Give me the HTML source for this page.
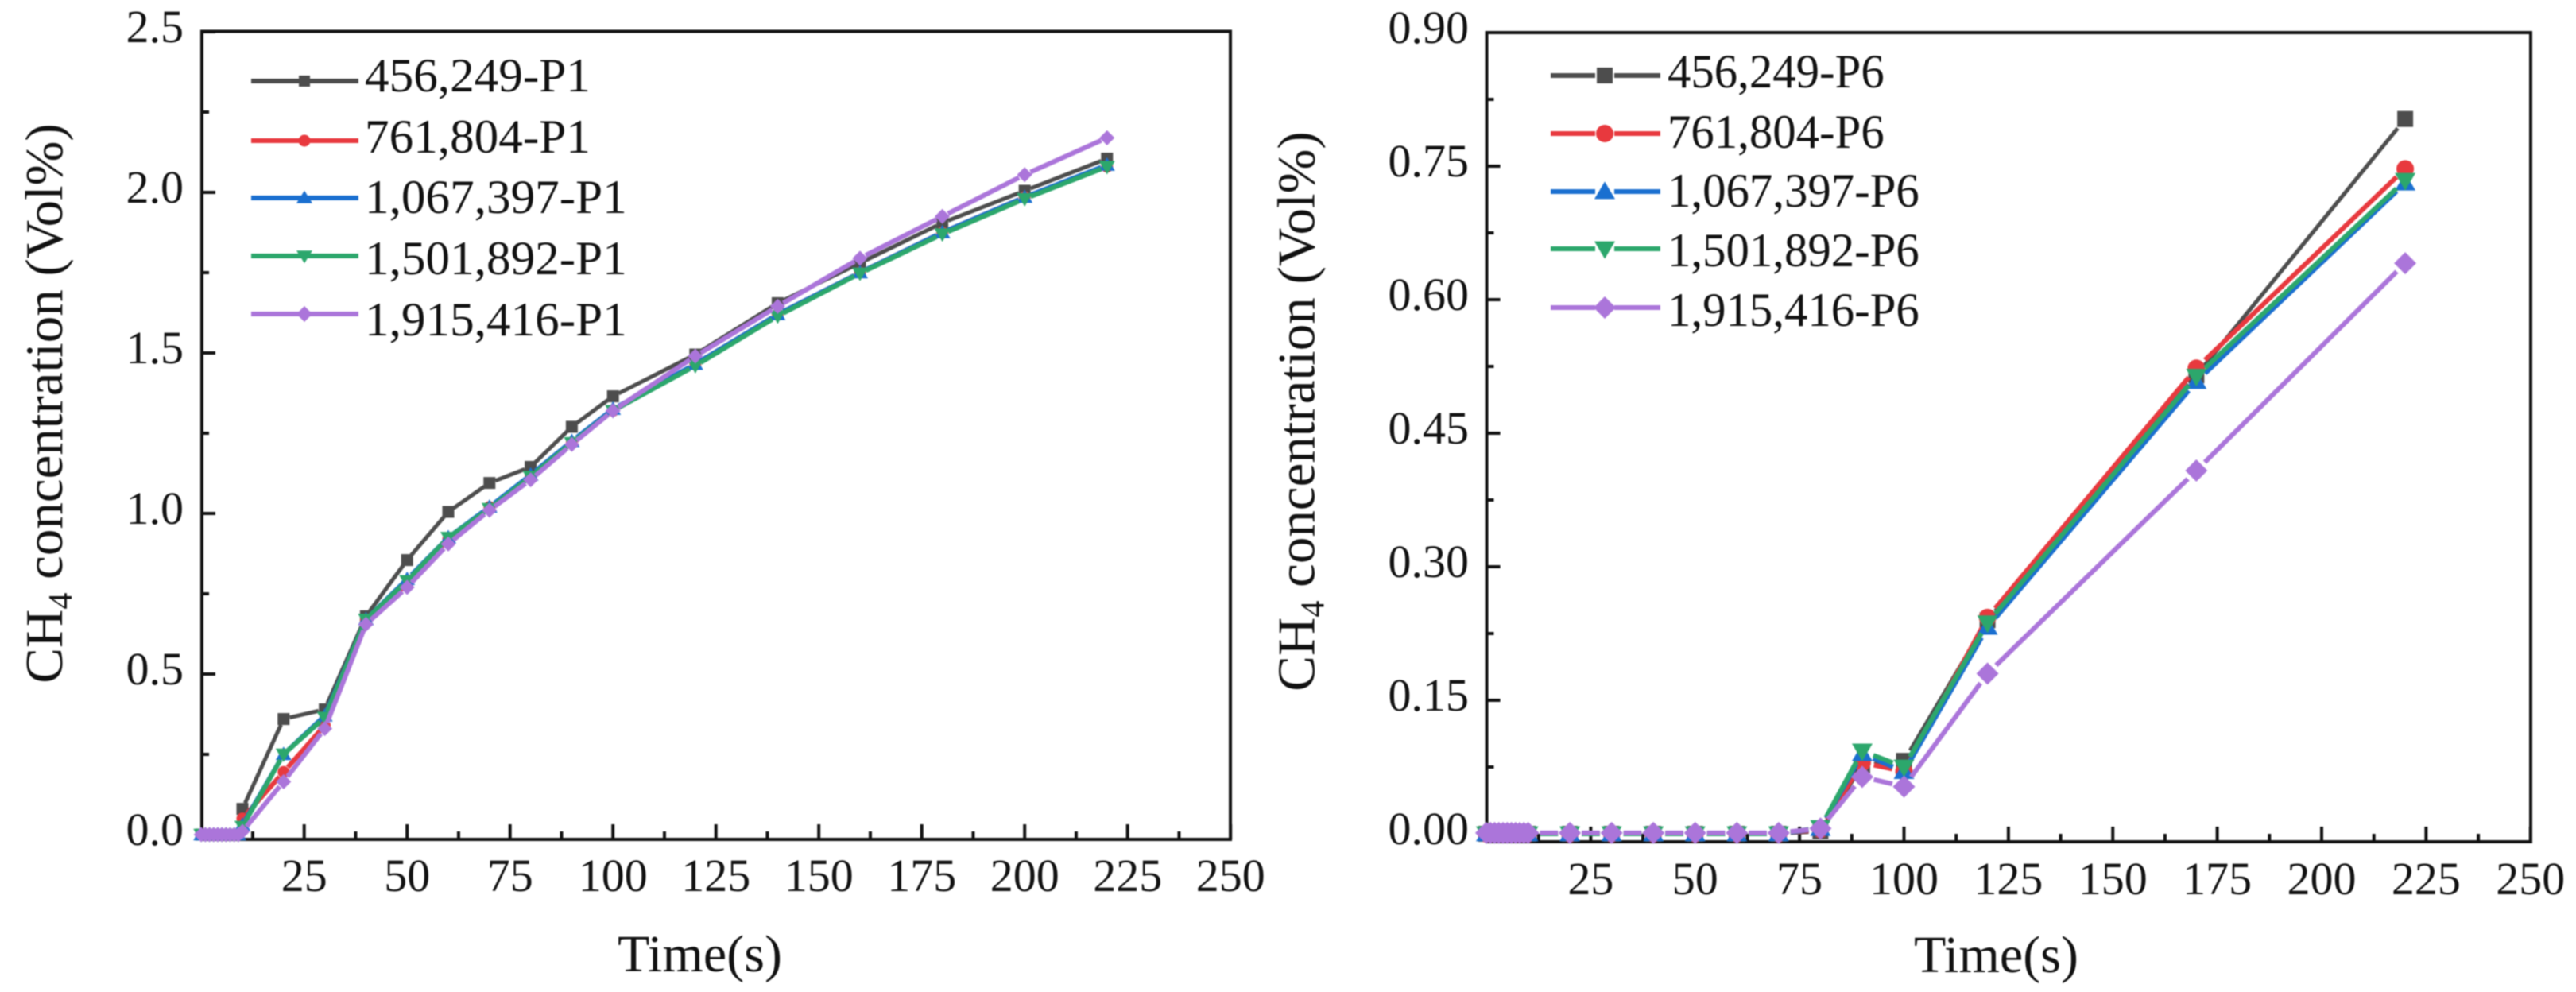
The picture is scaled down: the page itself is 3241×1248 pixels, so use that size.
<!DOCTYPE html>
<html lang="en">
<head>
<meta charset="utf-8">
<title>CH4 concentration versus time</title>
<style>
html,body{margin:0;padding:0;background:#fff;}
#figure{display:block;width:3241px;height:1248px;filter:blur(0.7px);}
text{font-family:"Liberation Serif",serif;fill:#111;}
</style>
</head>
<body>
<svg id="figure" xmlns="http://www.w3.org/2000/svg" width="3241" height="1248" viewBox="0 0 3241 1248">
  <rect x="0" y="0" width="3241" height="1248" fill="#fff"/>

  <g id="panel-p1">
    <rect x="254" y="39.5" width="1294" height="1016.5" fill="none" stroke="#111" stroke-width="4"/>
    <g id="p1-axes"></g>
    <g id="p1-series"></g>
    <g id="p1-legend"></g>
    <text transform="translate(78,507.5) rotate(-90)" text-anchor="middle" font-size="67">CH<tspan font-size="42" dy="12">4</tspan><tspan dy="-12"> concentration (Vol%)</tspan></text>
    <text x="880.5" y="1222" text-anchor="middle" font-size="66" textLength="207" lengthAdjust="spacing">Time(s)</text>
  </g>

  <g id="panel-p6">
    <rect x="1870.5" y="41" width="1313.5" height="1018" fill="none" stroke="#111" stroke-width="4"/>
    <g id="p6-axes"></g>
    <g id="p6-series"></g>
    <g id="p6-legend"></g>
    <text transform="translate(1653.5,517.5) rotate(-90)" text-anchor="middle" font-size="67">CH<tspan font-size="42" dy="12">4</tspan><tspan dy="-12"> concentration (Vol%)</tspan></text>
    <text x="2511.5" y="1223" text-anchor="middle" font-size="66" textLength="207" lengthAdjust="spacing">Time(s)</text>
  </g>
</svg>

<script>
// ---------- data: left chart (P1) ----------
const timesP1 = [0,1,2,3,4,5,6,7,8,9,10,20,30,40,50,60,70,80,90,100,120,140,160,180,200,220];
const p1Conc456249 = [0,0,0,0,0,0,0,0,0,0,0.08,0.36,0.39,0.68,0.855,1.005,1.095,1.145,1.27,1.365,1.495,1.655,1.78,1.905,2.005,2.105];
const p1Conc761804 = [0,0,0,0,0,0,0,0,0,0,0.05,0.195,0.34,0.665,0.78,0.92,1.02,1.115,1.22,1.32,1.465,1.62,1.75,1.875,1.985,2.08];
const p1Conc1067397 = [0,0,0,0,0,0,0,0,0,0,0.03,0.25,0.37,0.67,0.795,0.925,1.02,1.12,1.225,1.325,1.465,1.62,1.75,1.875,1.985,2.085];
const p1Conc1501892 = [0,0,0,0,0,0,0,0,0,0,0.025,0.25,0.365,0.67,0.79,0.925,1.015,1.115,1.22,1.32,1.46,1.615,1.748,1.87,1.98,2.08];
const p1Conc1915416 = [0,0,0,0,0,0,0,0,0,0,0.01,0.165,0.33,0.655,0.77,0.905,1.01,1.105,1.215,1.32,1.49,1.645,1.795,1.925,2.055,2.17];
const p1Labels = ["456,249-P1","761,804-P1","1,067,397-P1","1,501,892-P1","1,915,416-P1"];
const p1YMajor = ["0.0","0.5","1.0","1.5","2.0","2.5"];
const p1YMinor = [0.25,0.75,1.25,1.75,2.25];

// ---------- data: right chart (P6) ----------
const timesP6 = [0,1,2,3,4,5,6,7,8,9,10,20,30,40,50,60,70,80,90,100,120,170,220];
const p6Conc456249 = [0,0,0,0,0,0,0,0,0,0,0,0,0,0,0,0,0,0.003,0.077,0.082,0.24,0.515,0.803];
const p6Conc761804 = [0,0,0,0,0,0,0,0,0,0,0,0,0,0,0,0,0,0.005,0.08,0.07,0.243,0.523,0.747];
const p6Conc1067397 = [0,0,0,0,0,0,0,0,0,0,0,0,0,0,0,0,0,0.006,0.09,0.07,0.232,0.508,0.731];
const p6Conc1501892 = [0,0,0,0,0,0,0,0,0,0,0,0,0,0,0,0,0,0.007,0.093,0.075,0.237,0.514,0.734];
const p6Conc1915416 = [0.001,0.001,0.001,0.001,0.001,0.001,0.001,0.001,0.001,0.001,0.001,0.001,0.001,0.001,0.001,0.001,0.001,0.006,0.064,0.053,0.18,0.408,0.641];
const p6Labels = ["456,249-P6","761,804-P6","1,067,397-P6","1,501,892-P6","1,915,416-P6"];
const p6YMajor = ["0.00","0.15","0.30","0.45","0.60","0.75","0.90"];
const p6YMinor = [0.075,0.225,0.375,0.525,0.675,0.825];

// ---------- shared tick values ----------
const xMajorLabels = ["25","50","75","100","125","150","175","200","225","250"];
const xMinorValues = [12.5,37.5,62.5,87.5,112.5,137.5,162.5,187.5,212.5,237.5];

// ---------- axis functions ----------
function xP1(v){ return 253.2 + v * 5.18; }
function yP1(v){ return 1050 - v * 404; }
function xP6(v){ return 1870 + v * 5.255; }
function yP6(v){ return 1049 - v * 1120; }

// ---------- styling ----------
const seriesColors = ["#4d4d4d","#e8393e","#1a6fd0","#2ca76c","#ab75da"];
const seriesShapes = ["square","circle","up","down","diamond"];
const seriesWidths = [5,6,6,6,6];
const NS = "http://www.w3.org/2000/svg";

function mk(parent, tag, attrs){
  const el = document.createElementNS(NS, tag);
  for (const k in attrs) el.setAttribute(k, attrs[k]);
  parent.appendChild(el);
  return el;
}

function drawMarker(parent, shape, cx, cy, s, color){
  let el;
  if (shape === "square") {
    el = mk(parent, "rect", {x:cx-s.sq, y:cy-s.sq, width:s.sq*2, height:s.sq*2, fill:color});
  } else if (shape === "circle") {
    el = mk(parent, "circle", {cx:cx, cy:cy, r:s.circ, fill:color});
  } else if (shape === "up") {
    el = mk(parent, "polygon", {points:(cx-s.triW)+","+(cy+s.triH*0.85)+" "+(cx+s.triW)+","+(cy+s.triH*0.85)+" "+cx+","+(cy-s.triH*1.15), fill:color});
  } else if (shape === "down") {
    el = mk(parent, "polygon", {points:(cx-s.triW)+","+(cy-s.triH*0.85)+" "+(cx+s.triW)+","+(cy-s.triH*0.85)+" "+cx+","+(cy+s.triH*1.15), fill:color});
  } else {
    el = mk(parent, "polygon", {points:cx+","+(cy-s.dia)+" "+(cx+s.dia)+","+cy+" "+cx+","+(cy+s.dia)+" "+(cx-s.dia)+","+cy, fill:color});
  }
  
  
  return el;
}

function drawSeries(parent, times, values, xFn, yFn, idx, s, gap){
  const color = seriesColors[idx];
  const group = mk(parent, "g", {});
  
  
  for (let i = 0; i < times.length - 1; i++) {
    const x1 = xFn(times[i]), y1 = yFn(values[i]), x2 = xFn(times[i+1]), y2 = yFn(values[i+1]);
    const len = Math.hypot(x2-x1, y2-y1);
    if (len <= gap * 2) continue;
    const ux = (x2-x1)/len, uy = (y2-y1)/len;
    const seg = mk(group, "line", {x1:x1+ux*gap, y1:y1+uy*gap, x2:x2-ux*gap, y2:y2-uy*gap, stroke:color, "stroke-width":seriesWidths[idx]});
    
    
  }
  for (let i = 0; i < times.length; i++) {
    drawMarker(group, seriesShapes[idx], xFn(times[i]), yFn(values[i]), s, color);
  }
}

function drawAxes(parent, xFn, yFn, yLabels, yMinor, bottom, left, yLabelRight, yLabelDy, xLabelY){
  xMajorLabels.forEach(function(lab){
    const x = xFn(Number(lab));
    const t = mk(parent, "line", {x1:x, x2:x, y1:bottom, y2:bottom-19, stroke:"#111", "stroke-width":4});
    
    
    const tx = mk(parent, "text", {x:x, y:xLabelY, "text-anchor":"middle", "font-size":58});
    tx.textContent = lab;
    
    
  });
  xMinorValues.forEach(function(v){
    const x = xFn(v);
    const t = mk(parent, "line", {x1:x, x2:x, y1:bottom, y2:bottom-10, stroke:"#111", "stroke-width":4});
    
    
  });
  yLabels.forEach(function(lab){
    const y = yFn(Number(lab));
    const t = mk(parent, "line", {x1:left, x2:left+17, y1:y, y2:y, stroke:"#111", "stroke-width":4});
    
    
    const tx = mk(parent, "text", {x:yLabelRight, y:y+yLabelDy, "text-anchor":"end", "font-size":58});
    tx.textContent = lab;
    
    
  });
  yMinor.forEach(function(v){
    const y = yFn(v);
    const t = mk(parent, "line", {x1:left, x2:left+9, y1:y, y2:y, stroke:"#111", "stroke-width":4});
    
    
  });
}

function drawLegend(parent, labels, x1, x2, xm, lineYs, textX, baselines, sx, s, lineGap){
  labels.forEach(function(lab, i){
    const g = mk(parent, "g", {});
    
    
    const y = lineYs[i];
    const a = mk(g, "line", {x1:x1, x2:xm-lineGap, y1:y, y2:y, stroke:seriesColors[i], "stroke-width":6});
    
    
    const b = mk(g, "line", {x1:xm+lineGap, x2:x2, y1:y, y2:y, stroke:seriesColors[i], "stroke-width":6});
    
    
    drawMarker(g, seriesShapes[i], xm, y, s, seriesColors[i]);
    const t = mk(g, "text", {transform:"translate("+textX+","+baselines[i]+") scale("+sx+",1)", "font-size":60});
    t.textContent = lab;
    
    
  });
}

// ---------- render left chart ----------
const sizesP1 = {sq:7.5, circ:7.5, triW:10, triH:8.5, dia:9.5};
const sizesP1Legend = {sq:7, circ:7.5, triW:10, triH:8, dia:10};
const p1Axes = document.getElementById("p1-axes");
const p1SeriesLayer = document.getElementById("p1-series");
const p1LegendLayer = document.getElementById("p1-legend");
drawAxes(p1Axes, xP1, yP1, p1YMajor, p1YMinor, 1056, 254, 231, 13, 1121);
[p1Conc456249,p1Conc761804,p1Conc1067397,p1Conc1501892,p1Conc1915416].forEach(function(vals, i){
  drawSeries(p1SeriesLayer, timesP1, vals, xP1, yP1, i, sizesP1, 8);
});
drawLegend(p1LegendLayer, p1Labels, 316, 451, 383, [102,177,249,322,395], 459, [115,192,268,345,422], 1.02, sizesP1Legend, 0);

// ---------- render right chart ----------
const sizesP6 = {sq:10, circ:11, triW:13, triH:11, dia:14};
const p6Axes = document.getElementById("p6-axes");
const p6SeriesLayer = document.getElementById("p6-series");
const p6LegendLayer = document.getElementById("p6-legend");
drawAxes(p6Axes, xP6, yP6, p6YMajor, p6YMinor, 1059, 1870.5, 1848, 13, 1125);
[p6Conc456249,p6Conc761804,p6Conc1067397,p6Conc1501892,p6Conc1915416].forEach(function(vals, i){
  drawSeries(p6SeriesLayer, timesP6, vals, xP6, yP6, i, sizesP6, 15);
});
drawLegend(p6LegendLayer, p6Labels, 1951, 2089, 2019, [95,168,241,313,387], 2098, [110,186,260,335,410], 0.98, sizesP6, 12);
</script>
</body>
</html>
